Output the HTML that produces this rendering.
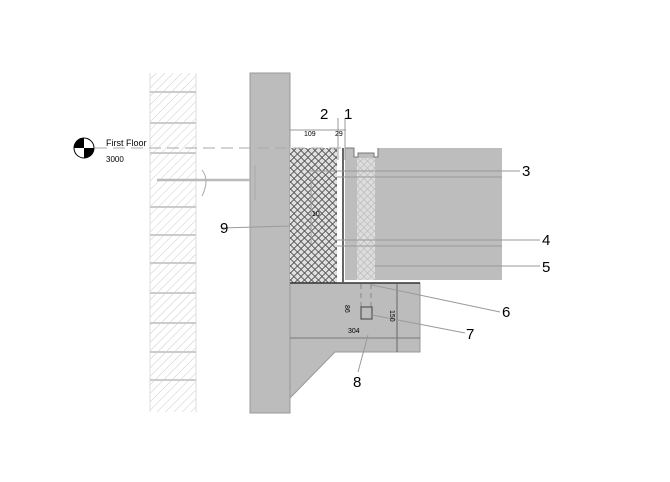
<!DOCTYPE html>
<html><head><style>html,body{margin:0;padding:0;background:#fff;}svg{display:block}</style></head>
<body>
<svg width="670" height="482" viewBox="0 0 670 482" xmlns="http://www.w3.org/2000/svg" font-family="Liberation Sans, sans-serif">
<defs>
<pattern id="hatch" width="6" height="6" patternUnits="userSpaceOnUse" patternTransform="rotate(45)">
<line x1="0" y1="0" x2="0" y2="6" stroke="#ccc" stroke-width="1"/></pattern>
<pattern id="xh" width="7" height="7" patternUnits="userSpaceOnUse">
<path d="M0 3.5L3.5 0L7 3.5L3.5 7Z" fill="none" stroke="#444" stroke-width="0.8"/></pattern>
<pattern id="xh2" width="7" height="7" patternUnits="userSpaceOnUse">
<path d="M0 3.5L3.5 0L7 3.5L3.5 7Z" fill="none" stroke="#bbb" stroke-width="0.7"/></pattern>
</defs>
<rect x="150" y="73" width="46" height="339" fill="url(#hatch)"/>
<line x1="150" y1="73" x2="150" y2="412" stroke="#ddd"/><line x1="196" y1="73" x2="196" y2="412" stroke="#ddd"/>
<g stroke="#ccc" stroke-width="2">
<line x1="150" y1="92" x2="196" y2="92"/><line x1="150" y1="123" x2="196" y2="123"/><line x1="150" y1="153" x2="196" y2="153"/><line x1="150" y1="207" x2="196" y2="207"/><line x1="150" y1="235" x2="196" y2="235"/><line x1="150" y1="263" x2="196" y2="263"/><line x1="150" y1="293" x2="196" y2="293"/><line x1="150" y1="323" x2="196" y2="323"/><line x1="150" y1="352" x2="196" y2="352"/><line x1="150" y1="380" x2="196" y2="380"/></g>
<rect x="250" y="73" width="40" height="340" fill="#bcbcbc" stroke="#999"/>
<rect x="345" y="148" width="157" height="132" fill="#bdbdbd"/>
<rect x="357" y="158" width="18" height="122" fill="#ddd"/>
<rect x="357" y="158" width="18" height="122" fill="url(#xh2)"/>
<path d="M345 148h9v9h4v-4h16v4h4v-9" fill="#fff" stroke="#777"/>
<line x1="343" y1="148" x2="343" y2="282" stroke="#333" stroke-width="1.5"/>
<rect x="290" y="148" width="47" height="135" fill="#e0e0e0"/>
<rect x="290" y="148" width="47" height="135" fill="url(#xh)"/>
<path d="M290 283H420V352H335L290 398Z" fill="#bcbcbc" stroke="#999"/>
<line x1="290" y1="283" x2="420" y2="283" stroke="#333" stroke-width="1.5"/>
<line x1="397" y1="283" x2="397" y2="352" stroke="#666"/>
<line x1="290" y1="338" x2="420" y2="338" stroke="#777"/>
<g stroke="#888" stroke-dasharray="5,4"><line x1="361" y1="284" x2="361" y2="310"/><line x1="371" y1="284" x2="371" y2="310"/></g>
<rect x="361" y="307" width="11" height="12" fill="none" stroke="#555" stroke-width="1.2"/>
<g stroke="#999"><line x1="310" y1="171" x2="520" y2="171"/><line x1="337" y1="177" x2="502" y2="177"/><line x1="337" y1="240" x2="540" y2="240"/><line x1="337" y1="246" x2="502" y2="246"/><line x1="375" y1="266" x2="540" y2="266"/>
<line x1="311" y1="178" x2="311" y2="244"/>
<line x1="372" y1="285" x2="500" y2="312"/><line x1="372" y1="315" x2="465" y2="333"/><line x1="368" y1="335" x2="358" y2="372"/><line x1="222" y1="228" x2="290" y2="226"/>
<line x1="290" y1="130" x2="346" y2="130"/><line x1="338" y1="118" x2="338" y2="160"/><line x1="345" y1="118" x2="345" y2="160"/></g>
<line x1="95" y1="148" x2="345" y2="148" stroke="#aaa" stroke-dasharray="12,6"/>
<circle cx="84" cy="148" r="10" fill="#fff" stroke="#000"/>
<path d="M84 138A10 10 0 0 0 74 148H84Z M84 148V158A10 10 0 0 0 94 148Z" fill="#000"/>
<line x1="157" y1="180" x2="250" y2="180" stroke="#bbb" stroke-width="2.5"/>
<path d="M202 170Q210 180 202 196" fill="none" stroke="#aaa"/>
<line x1="255" y1="165" x2="255" y2="200" stroke="#aaa"/>
<text x="106" y="146" font-size="9">First Floor</text>
<text x="106" y="162" font-size="8">3000</text>
<g font-size="15"><text x="320" y="119">2</text><text x="344" y="119">1</text><text x="522" y="176">3</text><text x="542" y="245">4</text><text x="542" y="272">5</text><text x="502" y="317">6</text><text x="466" y="339">7</text><text x="353" y="387">8</text><text x="220" y="233">9</text></g>
<g font-size="7"><text x="304" y="136">109</text><text x="335" y="136">29</text><text x="348" y="333">304</text><text x="312" y="216">10</text></g>
<text x="0" y="0" font-size="7" transform="translate(345 305) rotate(90)">86</text>
<text x="0" y="0" font-size="7" transform="translate(390 310) rotate(90)">150</text>
</svg>
</body></html>
